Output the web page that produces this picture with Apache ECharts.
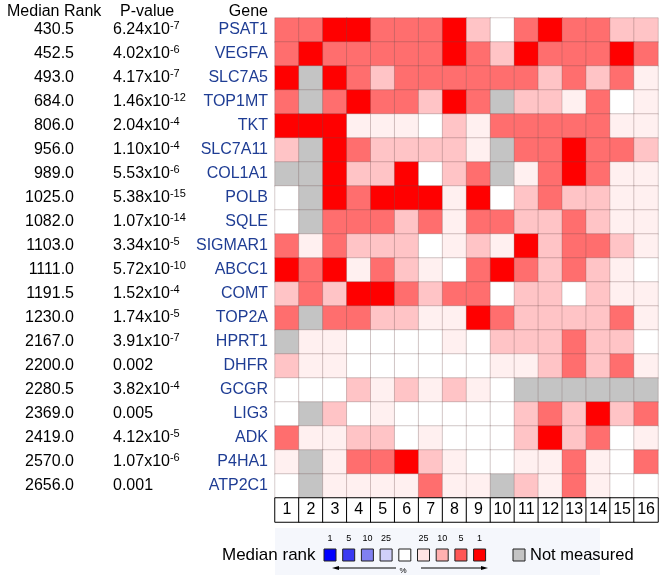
<!DOCTYPE html>
<html>
<head>
<meta charset="utf-8">
<script src="https://cdn.jsdelivr.net/npm/echarts@6/dist/echarts.min.js"></script>
<style>
html,body{margin:0;padding:0;background:#fff;}
#chart{width:661px;height:575px;}
</style>
</head>
<body>
<div id="chart"></div>
<script>
// ---- data ----
const genes = ['PSAT1','VEGFA','SLC7A5','TOP1MT','TKT','SLC7A11','COL1A1','POLB','SQLE','SIGMAR1','ABCC1','COMT','TOP2A','HPRT1','DHFR','GCGR','LIG3','ADK','P4HA1','ATP2C1'];
const medianRanks = ['430.5','452.5','493.0','684.0','806.0','956.0','989.0','1025.0','1082.0','1103.0','1111.0','1191.5','1230.0','2167.0','2200.0','2280.5','2369.0','2419.0','2570.0','2656.0'];
const pValues = ['6.24x10^-7','4.02x10^-6','4.17x10^-7','1.46x10^-12','2.04x10^-4','1.10x10^-4','5.53x10^-6','5.38x10^-15','1.07x10^-14','3.34x10^-5','5.72x10^-10','1.52x10^-4','1.74x10^-5','3.91x10^-7','0.002','3.82x10^-4','0.005','4.12x10^-5','1.07x10^-6','0.001'];
const columns = ['1','2','3','4','5','6','7','8','9','10','11','12','13','14','15','16'];
// level: 4 = top 1%, 3 = top 5%, 2 = top 10%, 1 = top 25%, 0 = not in top 25%, -1 = not measured
const levels = [
  [3,3,4,4,3,3,3,4,2,0,3,4,3,3,2,2],
  [3,4,3,3,3,3,3,4,3,2,4,3,3,3,4,3],
  [4,-1,4,3,2,3,3,3,3,3,3,2,3,2,3,1],
  [3,-1,3,4,3,3,2,4,3,-1,2,2,1,3,0,1],
  [4,4,4,1,1,1,0,2,1,3,3,3,3,3,1,1],
  [2,-1,4,3,2,2,2,2,1,-1,3,3,4,3,3,2],
  [-1,-1,4,2,2,4,0,2,3,-1,1,3,4,3,1,1],
  [0,-1,4,3,4,4,4,1,4,0,2,3,2,2,1,1],
  [0,-1,3,3,3,2,3,1,3,3,2,2,3,2,1,1],
  [3,1,3,2,2,2,0,1,2,1,4,2,3,3,2,1],
  [4,3,4,1,3,2,1,0,3,4,3,2,3,2,1,0],
  [2,3,2,4,4,3,2,3,3,0,2,2,0,2,1,1],
  [3,-1,3,3,2,2,1,1,4,3,2,2,2,2,3,1],
  [-1,1,1,0,0,0,0,1,0,2,2,2,3,2,2,0],
  [2,1,1,0,0,0,0,0,0,1,1,2,3,2,3,1],
  [0,0,0,2,1,2,1,2,1,0,-1,-1,-1,-1,-1,-1],
  [0,-1,2,0,1,0,0,0,0,0,2,3,2,4,2,3],
  [3,1,1,2,2,0,1,0,0,0,2,4,2,3,0,1],
  [1,-1,1,3,3,4,2,1,0,0,1,1,3,1,0,3],
  [0,-1,1,1,1,1,3,1,1,-1,2,1,3,1,0,0]
];
const legendLabelsBlue = ['1','5','10','25'];
const legendLabelsRed = ['25','10','5','1'];

// ---- build ----
const heat = [];
levels.forEach((row, r) => row.forEach((v, c) => heat.push([c, r, v])));
const numRow = columns.map((c, i) => [i, 0, c]);

function fmtP(s) {
  if (s.indexOf('^') < 0) return '{b|' + s + '}';
  const parts = s.split('^');
  return '{b|' + parts[0] + '}{s|' + parts[1] + '}';
}

const FONT = 'Liberation Sans, Arial, sans-serif';
const chart = echarts.init(document.getElementById('chart'), null, {renderer: 'canvas'});

const blueCols = ['#0000ff','#3a3af2','#8080f0','#d0d0fa'];
const redCols = ['#ffe4e4','#ffb0b0','#ff5656','#ff0000'];
const g = [];
g.push({type:'rect', shape:{x:275,y:528,width:325,height:47}, style:{fill:'#f5f7fc'}, silent:true, z:0});
g.push({type:'text', style:{x:222, y:555, text:'Median rank', font:'17px ' + FONT, fill:'#000', textVerticalAlign:'middle'}});
const sqX0 = 324, step = 18.7, sq = 12;
const allCols = blueCols.concat(['#ffffff']).concat(redCols);
allCols.forEach((col, i) => {
  g.push({type:'rect', shape:{x:sqX0 + i*step, y:549, width:sq, height:sq}, style:{fill:col, stroke:'#222', lineWidth:1}});
});
legendLabelsBlue.forEach((t, i) => {
  g.push({type:'text', style:{x:sqX0 + i*step + sq/2, y:539, text:t, font:'9px ' + FONT, fill:'#000', textAlign:'center', textVerticalAlign:'middle'}});
});
legendLabelsRed.forEach((t, i) => {
  g.push({type:'text', style:{x:sqX0 + (i+5)*step + sq/2, y:539, text:t, font:'9px ' + FONT, fill:'#000', textAlign:'center', textVerticalAlign:'middle'}});
});
g.push({type:'rect', shape:{x:513, y:549, width:sq, height:sq}, style:{fill:'#c4c4c4', stroke:'#222', lineWidth:1}});
g.push({type:'text', style:{x:530, y:555, text:'Not measured', font:'16.5px ' + FONT, fill:'#000', textVerticalAlign:'middle'}});
// arrows
g.push({type:'line', shape:{x1:337, y1:568, x2:396, y2:568}, style:{stroke:'#000', lineWidth:1}});
g.push({type:'polygon', shape:{points:[[332,568],[339,566],[339,570]]}, style:{fill:'#000'}});
g.push({type:'text', style:{x:403, y:571, text:'%', font:'8px ' + FONT, fill:'#000', textAlign:'center', textVerticalAlign:'middle'}});
g.push({type:'line', shape:{x1:421, y1:568, x2:482, y2:568}, style:{stroke:'#000', lineWidth:1}});
g.push({type:'polygon', shape:{points:[[488,568],[481,566],[481,570]]}, style:{fill:'#000'}});

// headers
g.push({type:'text', style:{x:7, y:12, text:'Median Rank', font:'16px ' + FONT, fill:'#000', textVerticalAlign:'middle'}});
g.push({type:'text', style:{x:120, y:12, text:'P-value', font:'16px ' + FONT, fill:'#000', textVerticalAlign:'middle'}});
g.push({type:'text', style:{x:268, y:12, text:'Gene', font:'16px ' + FONT, fill:'#000', textAlign:'right', textVerticalAlign:'middle'}});

const option = {
  backgroundColor: '#ffffff',
  animation: false,
  textStyle: {fontFamily: FONT},
  grid: [
    {left: 275, top: 18, width: 383, height: 480, containLabel: false},
    {left: 275, top: 498, width: 383, height: 24, containLabel: false}
  ],
  xAxis: [
    {type:'category', gridIndex:0, data: columns, show:false},
    {type:'category', gridIndex:1, data: columns, show:false}
  ],
  yAxis: [
    {type:'category', gridIndex:0, data: genes, inverse:true, position:'left',
      axisLine:{show:false}, axisTick:{show:false}, splitLine:{show:false},
      axisLabel:{margin:7, color:'#1f3d94', fontSize:16, fontFamily:FONT}},
    {type:'category', gridIndex:0, data: pValues, inverse:true, position:'left', offset:162,
      axisLine:{show:false}, axisTick:{show:false}, splitLine:{show:false},
      axisLabel:{margin:0, align:'left', color:'#000', formatter: fmtP,
        rich:{b:{fontSize:16, fontFamily:FONT, color:'#000', lineHeight:20}, s:{fontSize:11, fontFamily:FONT, color:'#000', verticalAlign:'top', lineHeight:12}}}},
    {type:'category', gridIndex:0, data: medianRanks, inverse:true, position:'left', offset:201,
      axisLine:{show:false}, axisTick:{show:false}, splitLine:{show:false},
      axisLabel:{margin:0, align:'right', color:'#000', fontSize:16, fontFamily:FONT}},
    {type:'category', gridIndex:1, data:['n'], show:false}
  ],
  visualMap: {
    type:'piecewise', show:false, seriesIndex:0, dimension:2,
    pieces:[
      {value:-1, color:'#c4c4c4'},
      {value:0, color:'#ffffff'},
      {value:1, color:'#fff0f0'},
      {value:2, color:'#ffc4c6'},
      {value:3, color:'#ff6e6e'},
      {value:4, color:'#ff0000'}
    ]
  },
  series: [
    {type:'heatmap', xAxisIndex:0, yAxisIndex:0, data: heat,
      itemStyle:{borderColor:'rgba(110,80,80,0.28)', borderWidth:1},
      emphasis:{disabled:true}},
    {type:'heatmap', xAxisIndex:1, yAxisIndex:3, data: numRow,
      itemStyle:{color:'#ffffff', borderColor:'#000', borderWidth:1},
      label:{show:true, formatter: p => p.data[2], color:'#000', fontSize:16, fontFamily:FONT},
      emphasis:{disabled:true}}
  ],
  graphic: g
};
chart.setOption(option);
</script>
</body>
</html>
